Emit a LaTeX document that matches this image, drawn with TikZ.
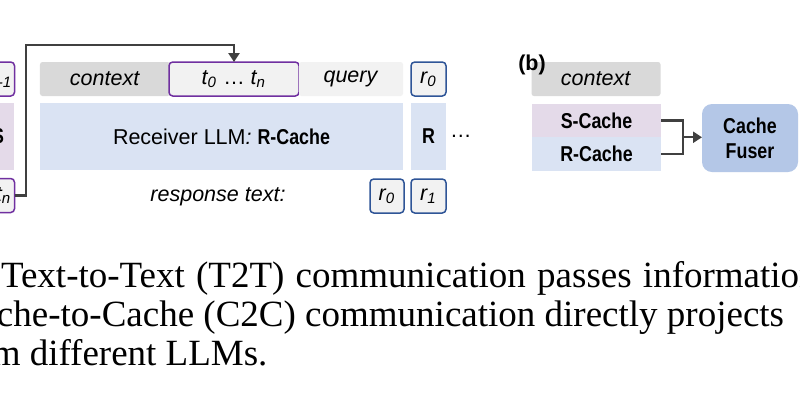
\documentclass[tikz,border=0pt]{standalone}
\usepackage{fontspec}
\usepackage{graphicx}
\usepackage{xcolor}
\setmainfont{Liberation Serif}
\newfontfamily\diagfont{Liberation Sans}
\usetikzlibrary{arrows.meta,positioning}

\definecolor{ctxgray}{HTML}{D9D9D9}
\definecolor{tokgray}{HTML}{F2F2F2}
\definecolor{tokpurple}{HTML}{7030A0}
\definecolor{respblue}{HTML}{2F5597}
\definecolor{recvblue}{HTML}{DAE3F3}
\definecolor{sendmauve}{HTML}{E4DAE9}
\definecolor{fuserblue}{HTML}{B4C7E7}
\definecolor{wire}{HTML}{404040}

\newcommand{\cnd}[1]{\scalebox{0.83}[1]{\bfseries #1}}
\newcommand{\tok}[2]{\textit{#1\textsubscript{#2}}}

\begin{document}
\begin{tikzpicture}[
	x=0.4pt, y=-0.4pt,
	font=\diagfont\fontsize{8.6}{10}\selectfont,
	% Node styles
	bar/.style={
		rectangle, rounded corners=1pt,
		inner sep=0pt, outer sep=0pt,
		minimum height=13.6pt
	},
	ctxbar/.style={bar, fill=ctxgray},
	qrybar/.style={bar, fill=tokgray},
	tokbox/.style={
		bar, draw=tokpurple, line width=0.6pt,
		fill=tokgray, rounded corners=1.5pt
	},
	respbox/.style={
		bar, draw=respblue, line width=0.6pt,
		fill=tokgray, rounded corners=1.5pt,
		minimum width=13.6pt
	},
	cache/.style={
		rectangle, inner sep=0pt, outer sep=0pt,
		minimum height=26.8pt
	},
	flow/.style={-{Triangle[width=4.4pt,length=3.6pt]}, line width=0.9pt, wire},
	link/.style={line width=0.9pt, wire},
	caption/.style={
		font=\rmfamily\fontsize{14.8}{15.6}\selectfont,
		inner sep=0pt, anchor=base east
	}
	]
	
	\useasboundingbox (0,0) rectangle (800,416);
	\fill[white] (0,0) rectangle (800,416);
	\clip (0,0) rectangle (800,416);
	
	%% ─── PANEL (a): SENDER COLUMN (cut at the left edge) ─────────────────────
	\node[tokbox, anchor=east, inner xsep=0.8pt] (tokPrev) at (14.5,79) {\tok{t}{n-1}};
	\node[cache, fill=sendmauve, anchor=east, minimum width=12.8pt] (sendCol) at (14,136.5) {\cnd{S}};
	\node[tokbox, anchor=east, inner xsep=1.2pt] (tokLast) at (14.5,195.5) {\tok{t}{n}};
	
	%% ─── PANEL (a): RECEIVER ────────────────────────────────────────────────
	\node[ctxbar, minimum width=52pt] (ctxA) at (105,79) {\textit{context}};
	\node[tokbox, minimum width=52pt, right=-0.4pt of ctxA] (tokens)
	{\tok{t}{0} \dots{} \tok{t}{n}};
	\node[qrybar, minimum width=41.6pt, right=0pt of tokens] (qry) {\textit{query}};
	\node[respbox, minimum width=14pt, right=3.2pt of qry] (rTop) {\tok{r}{0}};
	
	\node[cache, fill=recvblue, minimum width=145.2pt] (recv) at (221.5,136.5)
	{Receiver LLM\textit{:} \cnd{R-Cache}};
	\node[cache, fill=recvblue, minimum width=14pt, right=3.2pt of recv] (recvCol) {\cnd{R}};
	\node[right=1.4pt of recvCol, inner sep=0pt] (more) {\dots};
	
	\node (respText) at (218,197) {\textit{response text:}};
	\node[respbox] (rOut0) at (387,196) {\tok{r}{0}};
	\node[respbox, minimum width=14pt, right=2.8pt of rOut0] (rOut1) {\tok{r}{1}};
	
	% Sender token fed back into the receiver prompt
	\draw[flow] (tokLast.east) -- ++(11.5,0) |- ([yshift=6.8pt]tokens.north) -- (tokens.north);
	
	%% ─── PANEL (b): CACHE FUSION ────────────────────────────────────────────
	\node[ctxbar, minimum width=51.6pt] (ctxB) at (596,79) {\textit{context}};
	\node[inner sep=0pt] (tagB) at (532,65) {\bfseries (b)};
	\node[cache, fill=sendmauve, minimum width=51.6pt, minimum height=13.4pt] (sCache)
	at (596.5,120.5) {\cnd{S-Cache}};
	\node[cache, fill=recvblue, minimum width=51.6pt, minimum height=13.4pt,
	below=0pt of sCache] (rCache) {\cnd{R-Cache}};
	
	\node[cache, fill=fuserblue, rounded corners=4pt, minimum width=38.4pt,
	minimum height=27.2pt, align=center] (fuser) at (750,138)
	{\cnd{Cache}\\\cnd{Fuser}};
	
	\draw[link] (sCache.east) -- ++(22,0) |- (rCache.east);
	\draw[flow] ([xshift=8.8pt]sCache.south east) -- (fuser.west |- sCache.south east);
	
	%% ─── CAPTION (cut at both edges) ────────────────────────────────────────
	\node[caption, anchor=base west] (capA) at (0.5,287)
	{\spaceskip=4.5pt Text-to-Text (T2T) communication passes information};
	\node[caption] (capB) at (784.5,326)
	{che-to-Cache (C2C) communication directly projects};
	\node[caption] (capC) at (268,365) {m different LLMs.};
	
\end{tikzpicture}
\end{document}
